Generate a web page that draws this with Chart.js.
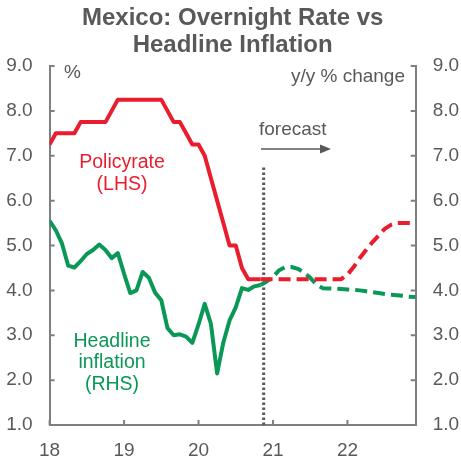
<!DOCTYPE html>
<html><head><meta charset="utf-8">
<script src="https://cdn.jsdelivr.net/npm/chart.js@4/dist/chart.umd.min.js"></script>
<style>html,body{margin:0;padding:0;background:#fff}</style>
</head><body>
<canvas id="c" width="461" height="464"></canvas>
<script>
// ---- data ----
const startYear = 18;            // Jan 2018
const monthCount = 60;           // Jan 2018 .. Dec 2022
const forecastStartIndex = 34;   // Nov 2020
const forecastMarker = 20.875;   // vertical dotted line (year units)
const yearTicks = [18, 19, 20, 21, 22];
const axisTicks = [1, 2, 3, 4, 5, 6, 7, 8, 9];

const policyRateActual = [7.25,7.5,7.5,7.5,7.5,7.75,7.75,7.75,7.75,7.75,8.0,8.25,
  8.25,8.25,8.25,8.25,8.25,8.25,8.25,8.0,7.75,7.75,7.5,7.25,
  7.25,7.0,6.5,6.0,5.5,5.0,5.0,4.5,4.25,4.25,4.25];
const policyRateForecast = [4.25,4.25,4.25,4.25,4.25,4.25,4.25,4.25,4.25,4.25,4.25,4.25,4.25,4.25,
  4.35,4.52,4.72,4.9,5.07,5.22,5.37,5.46,5.5,5.5,5.5,5.5];
const inflationActual = [5.55,5.34,5.04,4.55,4.51,4.65,4.81,4.90,5.02,4.90,4.72,4.83,
  4.37,3.94,4.00,4.41,4.28,3.95,3.78,3.16,3.00,3.02,2.97,2.83,
  3.24,3.70,3.25,2.15,2.84,3.33,3.62,4.05,4.01,4.09,4.12];
const inflationForecast = [4.12,4.2,4.3,4.45,4.52,4.52,4.48,4.4,4.28,4.13,4.05,4.04,4.04,4.03,
  4.02,4.01,4.0,3.98,3.96,3.94,3.92,3.9,3.89,3.88,3.86,3.85];

// ---- build ----
const months = [];
for (let i = 0; i < monthCount; i++) months.push(startYear + i / 12);
function seriesPoints(values, offset) {
  return values.map((v, k) => ({ x: months[offset + k], y: v }));
}

const RED = '#E91D2D', GREEN = '#0A9857', GREY = '#595959', AXIS = '#7F7F7F';
const FONT = "'Liberation Sans', Arial, sans-serif";

const annot = {
  id: 'annot',
  afterDraw(chart) {
    const ctx = chart.ctx;
    const { x, y, y2 } = chart.scales;
    const a = chart.chartArea;
    ctx.save();
    // inward tick marks
    ctx.strokeStyle = AXIS; ctx.lineWidth = 2;
    ctx.beginPath();
    yearTicks.forEach(v => { const px = x.getPixelForValue(v); ctx.moveTo(px, a.bottom); ctx.lineTo(px, a.bottom - 5); });
    axisTicks.forEach(v => {
      const py = y.getPixelForValue(v); ctx.moveTo(a.left, py); ctx.lineTo(a.left + 5, py);
      const py2 = y2.getPixelForValue(v); ctx.moveTo(a.right, py2); ctx.lineTo(a.right - 5, py2);
    });
    ctx.stroke();

    // title
    const cx = (a.left + a.right) / 2;
    ctx.fillStyle = GREY;
    ctx.textAlign = 'center'; ctx.textBaseline = 'middle';
    ctx.font = 'bold 24px ' + FONT;
    ctx.fillText('Mexico: Overnight Rate vs', cx, 18);
    ctx.fillText('Headline Inflation', cx, 45);

    ctx.font = '19px ' + FONT;
    ctx.textAlign = 'left';
    ctx.fillText('%', 64, 73);
    ctx.textAlign = 'right';
    ctx.fillText('y/y % change', 405, 77);

    // forecast
    ctx.textAlign = 'left';
    ctx.fillText('forecast', 259, 130);
    ctx.strokeStyle = GREY; ctx.lineWidth = 1.5;
    ctx.beginPath(); ctx.moveTo(261, 149); ctx.lineTo(322, 149); ctx.stroke();
    ctx.beginPath(); ctx.moveTo(331, 149); ctx.lineTo(320, 144.5); ctx.lineTo(320, 153.5); ctx.closePath(); ctx.fill();

    // series labels
    ctx.font = '19.5px ' + FONT;
    ctx.textAlign = 'center';
    ctx.fillStyle = RED;
    ctx.fillText('Policyrate', 122, 163);
    ctx.fillText('(LHS)', 122, 185);
    ctx.fillStyle = GREEN;
    ctx.fillText('Headline', 112, 342);
    ctx.fillText('inflation', 112, 363);
    ctx.fillText('(RHS)', 112, 385);
    ctx.restore();
  }
};

const tickFont = { family: FONT, size: 19 };

new Chart(document.getElementById('c'), {
  type: 'line',
  data: {
    datasets: [
      { data: [{ x: forecastMarker, y: 1 }, { x: forecastMarker, y: 6.75 }], borderColor: GREY, borderWidth: 3, borderDash: [2.5, 2.5], yAxisID: 'y', order: 3 },
      { data: seriesPoints(inflationActual, 0), borderColor: GREEN, borderWidth: 4, yAxisID: 'y2', order: 2 },
      { data: seriesPoints(inflationForecast, forecastStartIndex), borderColor: GREEN, borderWidth: 4, borderDash: [12, 6], yAxisID: 'y2', order: 2 },
      { data: seriesPoints(policyRateActual, 0), borderColor: RED, borderWidth: 4, yAxisID: 'y', order: 1 },
      { data: seriesPoints(policyRateForecast, forecastStartIndex), borderColor: RED, borderWidth: 4, borderDash: [12, 6], yAxisID: 'y', order: 1 }
    ]
  },
  options: {
    responsive: false,
    animation: false,
    layout: { padding: { top: 66, left: 0, right: 0, bottom: 0 } },
    elements: { point: { radius: 0 }, line: { tension: 0, borderJoinStyle: 'round', borderCapStyle: 'butt' } },
    plugins: { legend: { display: false }, tooltip: { enabled: false }, title: { display: false } },
    scales: {
      x: {
        type: 'linear', position: 'bottom',
        min: startYear, max: months[monthCount - 1],
        ticks: { stepSize: 1, includeBounds: false, autoSkip: false, maxRotation: 0, padding: 14, color: GREY, font: tickFont,
          callback: v => Number.isInteger(v) ? String(v) : '' },
        grid: { display: true, drawOnChartArea: false, drawTicks: false },
        border: { display: true, color: AXIS, width: 2 },
        afterFit(s) { s.height = 39; }
      },
      y: {
        position: 'left', min: 1, max: 9,
        ticks: { stepSize: 1, padding: 17, color: GREY, font: tickFont, callback: v => v.toFixed(1) },
        grid: { display: true, drawOnChartArea: false, drawTicks: false },
        border: { display: true, color: AXIS, width: 2 },
        afterFit(s) { s.width = 49.6; }
      },
      y2: {
        position: 'right', min: 1, max: 9,
        ticks: { stepSize: 1, padding: 17, color: GREY, font: tickFont, callback: v => v.toFixed(1) },
        grid: { display: true, drawOnChartArea: false, drawTicks: false },
        border: { display: true, color: AXIS, width: 2 },
        afterFit(s) { s.width = 45.3; }
      }
    }
  },
  plugins: [annot]
});
</script>
</body></html>
